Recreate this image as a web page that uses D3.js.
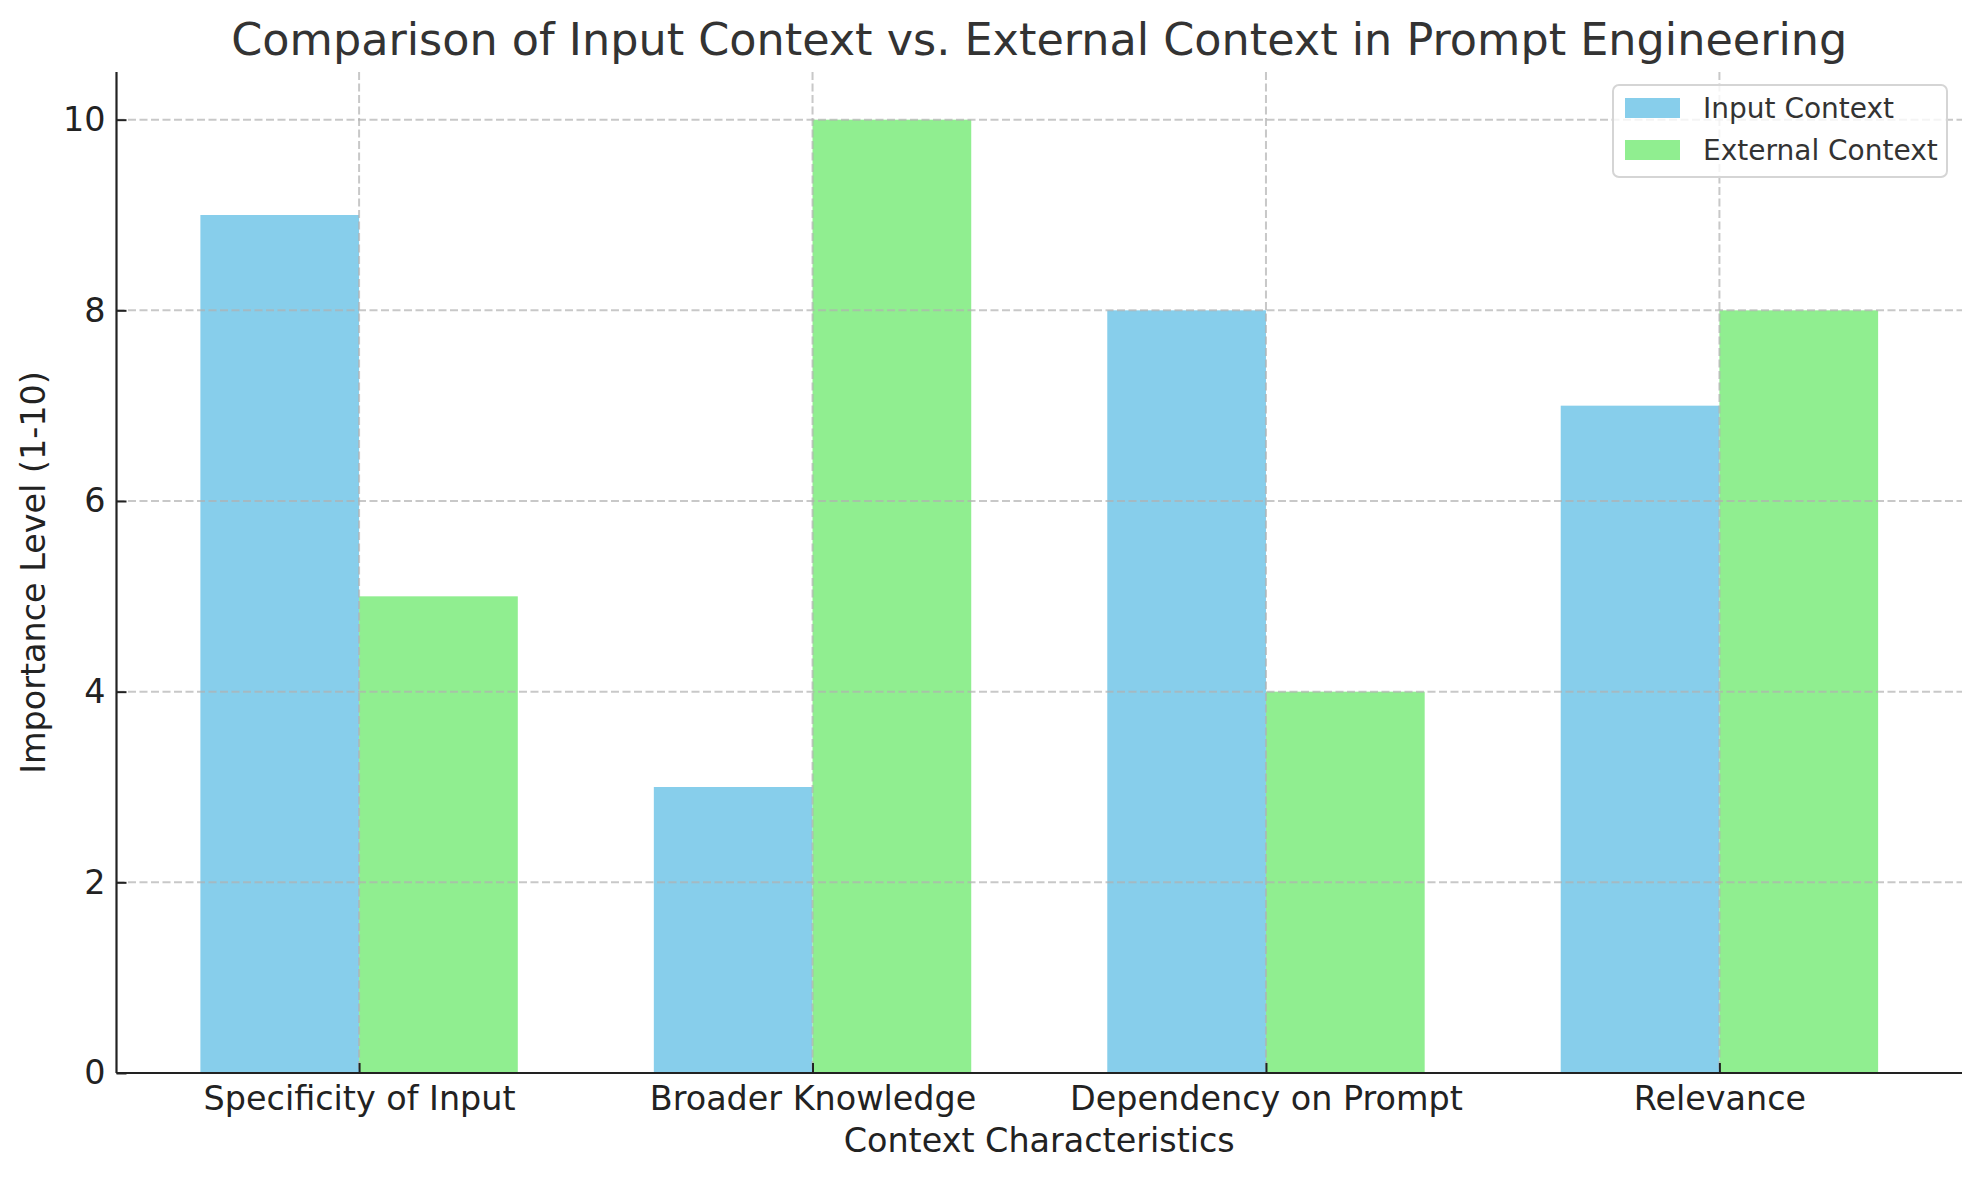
<!DOCTYPE html>
<html>
<head>
<meta charset="utf-8">
<script src="https://cdn.jsdelivr.net/npm/d3@7"></script>
<style>
  body { margin: 0; background: #fff; }
  svg { display: block; font-family: "DejaVu Sans", sans-serif; }
</style>
</head>
<body>
<svg id="chart" width="1979" height="1180"></svg>
<script>
// data
var categories = ['Specificity of Input', 'Broader Knowledge', 'Dependency on Prompt', 'Relevance'];
var inputContext = [9, 3, 8, 7];
var externalContext = [5, 10, 4, 8];
var seriesNames = ['Input Context', 'External Context'];
var yTickValues = [0, 2, 4, 6, 8, 10];

var colors = ['#87CEEB', '#90EE90'];
var barWidth = 0.35;

var svg = d3.select('#chart');
var margin = { top: 72, left: 116.5, right: 1962, bottom: 1073 };

// x is a numeric index scale, like matplotlib's bar positions
var x = d3.scaleLinear()
  .domain([-0.535, 3.535])
  .range([margin.left, margin.right]);

var y = d3.scaleLinear()
  .domain([0, 10.5])
  .range([margin.bottom, margin.top]);

// bars
var series = [inputContext, externalContext];
series.forEach(function(values, s) {
  svg.append('g')
    .selectAll('rect')
    .data(values)
    .enter()
    .append('rect')
    .attr('x', function(d, i) { return x(i + (s === 0 ? -barWidth : 0)); })
    .attr('width', x(barWidth) - x(0))
    .attr('y', function(d) { return y(d); })
    .attr('height', function(d) { return y(0) - y(d); })
    .attr('fill', colors[s]);
});

// grid on top of the bars, dashed and faint
var grid = svg.append('g')
  .attr('stroke', '#b0b0b0')
  .attr('stroke-opacity', 0.7)
  .attr('stroke-width', 2)
  .attr('stroke-dasharray', '8,3.5');

grid.selectAll('.hgrid')
  .data(yTickValues)
  .enter()
  .append('line')
  .attr('x1', margin.left).attr('x2', margin.right)
  .attr('y1', function(d) { return y(d); })
  .attr('y2', function(d) { return y(d); });

grid.selectAll('.vgrid')
  .data(categories)
  .enter()
  .append('line')
  .attr('x1', function(d, i) { return x(i); })
  .attr('x2', function(d, i) { return x(i); })
  .attr('y1', margin.top).attr('y2', margin.bottom);

// axes with inward ticks
var xAxis = d3.axisBottom(x)
  .tickValues(d3.range(categories.length))
  .tickFormat(function(i) { return categories[i]; })
  .tickSizeInner(-10)
  .tickSizeOuter(0)
  .tickPadding(13);

var yAxis = d3.axisLeft(y)
  .tickValues(yTickValues)
  .tickSizeInner(-10)
  .tickSizeOuter(0)
  .tickPadding(11);

var gx = svg.append('g')
  .attr('transform', 'translate(0,' + margin.bottom + ')')
  .call(xAxis);

var gy = svg.append('g')
  .attr('transform', 'translate(' + margin.left + ',0)')
  .call(yAxis);

[gx, gy].forEach(function(g) {
  g.select('.domain').attr('stroke', '#222').attr('stroke-width', 2.2);
  g.selectAll('.tick line').attr('stroke', '#222').attr('stroke-width', 2);
  g.selectAll('.tick text')
    .attr('fill', '#222')
    .style('font-size', '33.4px')
    .style('font-family', '"DejaVu Sans", sans-serif');
});

// the x domain line only spans the plot width
gx.select('.domain').attr('d', 'M' + margin.left + ',0H' + margin.right);
gy.select('.domain').attr('d', 'M0,' + margin.top + 'V' + margin.bottom);

// title and axis labels
svg.append('text')
  .attr('x', (margin.left + margin.right) / 2)
  .attr('y', 55)
  .attr('text-anchor', 'middle')
  .attr('fill', '#333')
  .style('font-size', '44.5px')
  .text('Comparison of Input Context vs. External Context in Prompt Engineering');

svg.append('text')
  .attr('x', (margin.left + margin.right) / 2)
  .attr('y', 1152)
  .attr('text-anchor', 'middle')
  .attr('fill', '#222')
  .style('font-size', '33.4px')
  .text('Context Characteristics');

svg.append('text')
  .attr('transform', 'translate(45,' + (margin.top + margin.bottom) / 2 + ') rotate(-90)')
  .attr('text-anchor', 'middle')
  .attr('fill', '#222')
  .style('font-size', '33.4px')
  .text('Importance Level (1-10)');

// legend, top right
var legend = svg.append('g').attr('transform', 'translate(1613,85)');
legend.append('rect')
  .attr('width', 334).attr('height', 92)
  .attr('rx', 6)
  .attr('fill', '#fff').attr('fill-opacity', 0.8)
  .attr('stroke', '#d5d5d5').attr('stroke-width', 2);

var items = legend.selectAll('.item')
  .data(seriesNames)
  .enter()
  .append('g')
  .attr('transform', function(d, i) { return 'translate(12,' + (13 + i * 42) + ')'; });

items.append('rect')
  .attr('width', 55).attr('height', 20)
  .attr('fill', function(d, i) { return colors[i]; });

items.append('text')
  .attr('x', 78).attr('y', 20)
  .attr('fill', '#333')
  .style('font-size', '28px')
  .text(function(d) { return d; });
</script>
</body>
</html>
